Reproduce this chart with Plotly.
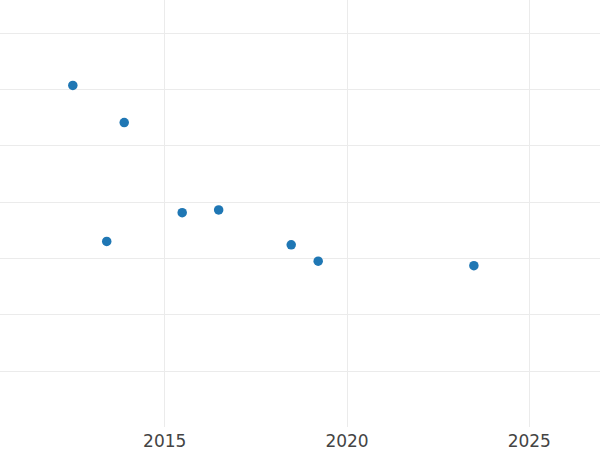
import plotly.graph_objects as go

years = [2012.48, 2013.89, 2013.41, 2015.48, 2016.48, 2018.47, 2019.21, 2023.48]
values = [5.07, 4.41, 2.30, 2.81, 2.86, 2.24, 1.95, 1.87]
x_ticks = [2015, 2020, 2025]
y_grid = [0, 1, 2, 3, 4, 5, 6]

fig = go.Figure(
    go.Scatter(
        x=years, y=values, mode="markers",
        marker=dict(color="#1f77b4", size=9.5),
    )
)
fig.update_layout(
    width=600, height=450,
    margin=dict(l=0, r=0, t=0, b=23),
    paper_bgcolor="white", plot_bgcolor="white",
    showlegend=False,
    font=dict(family="DejaVu Sans", size=17, color="#444"),
    xaxis=dict(
        range=[2010.483, 2026.939],
        tickvals=x_ticks, ticktext=[str(t) for t in x_ticks],
        showgrid=True, gridcolor="#ebebeb", gridwidth=1,
        zeroline=False, showline=False, ticks="",
        ticklabelstandoff=2,
    ),
    yaxis=dict(
        range=[-0.994, 6.586],
        tickvals=y_grid, showticklabels=False,
        showgrid=True, gridcolor="#ebebeb", gridwidth=1,
        zeroline=False, showline=False, ticks="",
    ),
)
fig.write_html(
    "out.html",
    config={"displayModeBar": False},
    post_script="document.body.style.margin='0';document.body.style.overflow='hidden';",
)
